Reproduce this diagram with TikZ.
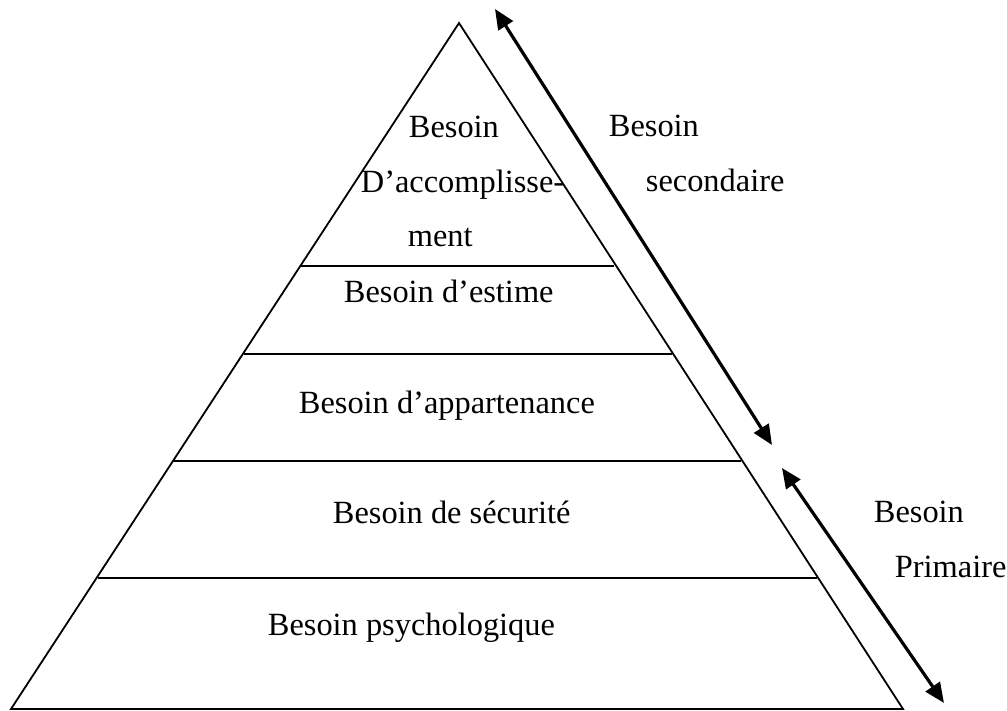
\documentclass[tikz,border=0pt]{standalone}
\usepackage{fontspec}
\setmainfont{Liberation Serif}
\usetikzlibrary{arrows.meta}
\tikzset{
  lbl/.style={anchor=base west, inner sep=0pt, font=\fontsize{16.2}{19}\selectfont},
  need/.style={{Triangle[length=10pt,width=8.5pt]}-{Triangle[length=10pt,width=8.5pt]}, line width=1.6pt},
}
\begin{document}
\begin{tikzpicture}[x=0.5pt, y=-0.5pt, line width=0.9pt]
\useasboundingbox (0,0) rectangle (1007,711);
\coordinate (top) at (459,23);
\coordinate (bl) at (11,709);
\coordinate (br) at (903,709);
\draw (bl) -- (top) -- (br) -- cycle;
\coordinate (l1a) at (301,266);
\coordinate (l1b) at (614,266);
\coordinate (l2a) at (244,354);
\coordinate (l2b) at (672,354);
\coordinate (l3a) at (174,461);
\coordinate (l3b) at (741,461);
\coordinate (l4a) at (98,578);
\coordinate (l4b) at (817,578);
\draw (l1a) -- (l1b);
\draw (l2a) -- (l2b);
\draw (l3a) -- (l3b);
\draw (l4a) -- (l4b);
\node[lbl] (acc1) at (408,138) {Besoin};
\node[lbl] (acc2) at (360,193) {D’accomplisse-};
\node[lbl] (acc3) at (407,247) {ment};
\node[lbl] (est) at (343,303) {Besoin d’estime};
\node[lbl] (app) at (298,413) {Besoin d’appartenance};
\node[lbl] (sec) at (332,523) {Besoin de sécurité};
\node[lbl] (psy) at (267,635) {Besoin psychologique};
\node[lbl] (sd1) at (608,137) {Besoin};
\node[lbl] (sd2) at (645,192) {secondaire};
\node[lbl] (pr1) at (873,522) {Besoin};
\node[lbl] (pr2) at (894,577) {Primaire};
\coordinate (s1) at (495,9);
\coordinate (s2) at (772,445);
\coordinate (p1) at (782,468);
\coordinate (p2) at (944,703);
\draw[need] (s1) -- (s2);
\draw[need] (p1) -- (p2);
\end{tikzpicture}
\end{document}
